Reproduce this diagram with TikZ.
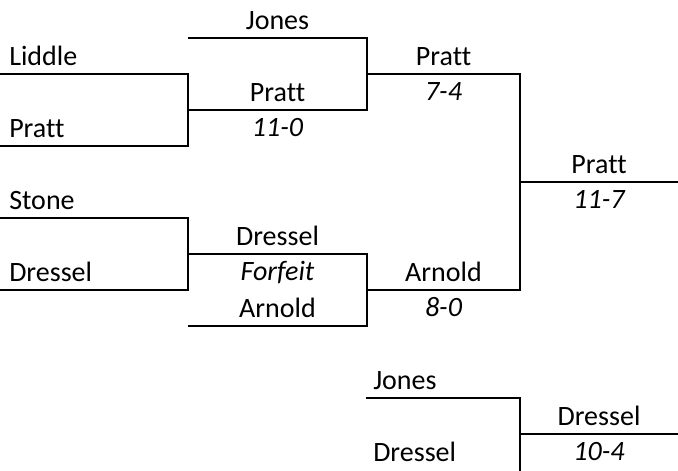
\documentclass[tikz,border=0pt]{standalone}
\usepackage{fontspec}
\setmainfont[Ligatures=NoCommon]{Carlito}
\usetikzlibrary{calc}

\begin{document}
\begin{tikzpicture}[x=0.75pt,y=-0.75pt,line width=1.9pt,inner sep=0pt,
  player/.style={anchor=base,font=\fontsize{21}{25}\selectfont},
  score/.style={player,font=\fontsize{21}{25}\selectfont\itshape}]
\useasboundingbox (0,0) rectangle (678,471);
% slot ends and joins
\coordinate (Liddle) at (0,74);
\coordinate (PrattA) at (0,146);
\coordinate (Stone)  at (0,218);
\coordinate (DressA) at (0,290);
\coordinate (Jones)  at (188,38);
\coordinate (J1)     at (188,110);
\coordinate (J2)     at (188,254);
\coordinate (Arnold) at (188,326);
\coordinate (K1)     at (367,74);
\coordinate (K2)     at (367,290);
\coordinate (M)      at (520,182);
\coordinate (End)    at (678,182);
\coordinate (JonesB) at (366,398);
\coordinate (N)      at (520,434);
\coordinate (EndB)   at (678,434);
\coordinate (Bot)    at (520,472);
% bracket lines
\draw (Liddle) -| (J1) |- (PrattA);
\draw (Stone) -| (J2) |- (DressA);
\draw (Jones) -| (K1 |- J1) -- (J1);
\draw (J2) -| (K2 |- Arnold) -- (Arnold);
\draw (K1) -| (M |- K2) -- (K2);
\draw (M) -- (End);
\draw (JonesB) -| (Bot);
\draw (N) -- (EndB);
% names and scores
\node [player,anchor=base west] (tLiddle) at ($(Liddle)+(8,-9)$) {Liddle};
\node [player,anchor=base west] (tPrattA) at ($(PrattA)+(8,-9)$) {Pratt};
\node [player,anchor=base west] (tStone)  at ($(Stone)+(8,-9)$)  {Stone};
\node [player,anchor=base west] (tDressA) at ($(DressA)+(8,-9)$) {Dressel};
\node [player] (tJones)  at ($(Jones)!.5!(K1 |- Jones)+(0,-9)$) {Jones};
\node [player] (tPrattB) at ($(J1)!.5!(K1 |- J1)+(0,-9)$)       {Pratt};
\node [score] (s1)       at ($(J1)!.5!(K1 |- J1)+(0,26)$)       {11-0};
\node [player] (tDressB) at ($(J2)!.5!(K2 |- J2)+(0,-9)$)       {Dressel};
\node [score] (s2)       at ($(J2)!.5!(K2 |- J2)+(0,26)$)       {Forfeit};
\node [player] (tArnold) at ($(Arnold)!.5!(K2 |- Arnold)+(0,-9)$) {Arnold};
\node [player] (tPrattC) at ($(K1)!.5!(M |- K1)+(0,-9)$)        {Pratt};
\node [score] (s3)       at ($(K1)!.5!(M |- K1)+(0,26)$)        {7-4};
\node [player] (tArnoldB) at ($(K2)!.5!(M |- K2)+(0,-9)$)       {Arnold};
\node [score] (s4)       at ($(K2)!.5!(M |- K2)+(0,26)$)        {8-0};
\node [player] (tPrattD) at ($(M)!.5!(End)+(0,-9)$)             {Pratt};
\node [score] (s5)       at ($(M)!.5!(End)+(0,26)$)             {11-7};
\node [player,anchor=base west] (tJonesB) at ($(JonesB)+(6,-9)$) {Jones};
\node [player,anchor=base west] (tDressC) at ($(JonesB)+(6,63)$) {Dressel};
\node [player] (tDressD) at ($(N)!.5!(EndB)+(0,-9)$)            {Dressel};
\node [score] (s6)       at ($(N)!.5!(EndB)+(0,26)$)            {10-4};
\end{tikzpicture}
\end{document}
